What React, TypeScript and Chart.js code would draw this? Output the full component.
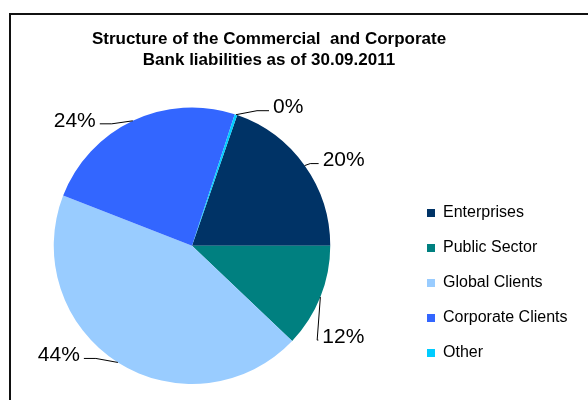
import { useEffect, useRef } from "react"
import { Chart, registerables } from "chart.js"

Chart.register(...registerables)

const categories = ["Enterprises", "Public Sector", "Global Clients", "Corporate Clients", "Other"]
const shares = [19.7, 12.1, 43.8, 24.1, 0.3]
const sliceColors = ["#003366", "#008080", "#99CCFF", "#3366FF", "#00CCFF"]
const titleLines = ["Structure of the Commercial  and Corporate", "Bank liabilities as of 30.09.2011"]

// where each percentage label sits, relative to the edge of its slice (Excel's manual placement)
const labelOffsets = [
  { dx: 18, dy: -5 },
  { dx: 2, dy: 40 },
  { dx: -38, dy: -7 },
  { dx: -37, dy: 0 },
  { dx: 37, dy: -7 },
]

const FONT = "Arial, 'Liberation Sans', sans-serif"
// the canvas starts a little left of the page so the pie area can reach past its edge
const SHIFT = 24
// the title is centred over the whole chart frame, not over the pie
const TITLE_X = 269
const TITLE_Y = 39

const frameTitle = {
  id: "frameTitle",
  afterDraw(chart: Chart) {
    const ctx = chart.ctx
    ctx.save()
    ctx.font = `bold 17px ${FONT}`
    ctx.fillStyle = "#000"
    ctx.textAlign = "center"
    ctx.textBaseline = "middle"
    titleLines.forEach((line, i) => {
      ctx.fillText(line, TITLE_X + SHIFT, TITLE_Y + i * 21.3)
    })
    ctx.restore()
  },
}

// percentage labels with leader lines, placed outside the pie
const outsideLabels = {
  id: "outsideLabels",
  afterDatasetsDraw(chart: Chart) {
    const ctx = chart.ctx
    const meta = chart.getDatasetMeta(0)
    const values = chart.data.datasets[0].data as number[]
    const total = values.reduce((a, b) => a + b, 0)

    ctx.save()
    ctx.font = `21px ${FONT}`
    ctx.fillStyle = "#000"
    ctx.strokeStyle = "#000"
    ctx.lineWidth = 1
    ctx.textBaseline = "middle"

    meta.data.forEach((arc: any, i: number) => {
      const { x, y, startAngle, endAngle, outerRadius } = arc.getProps(
        ["x", "y", "startAngle", "endAngle", "outerRadius"],
        true,
      )
      const mid = (startAngle + endAngle) / 2
      const px = x + outerRadius * Math.cos(mid)
      const py = y + outerRadius * Math.sin(mid)

      const off = labelOffsets[i]
      const tx = px + off.dx
      const ty = py + off.dy
      const side = off.dx >= 0 ? 1 : -1

      // leader line: edge -> elbow -> next to the text
      const qx = tx - side * 4
      const qy = ty + 3
      const ex = qx - side * Math.min(12, Math.abs(qx - px) * 0.6)
      ctx.beginPath()
      ctx.moveTo(px, py)
      ctx.lineTo(ex, qy)
      ctx.lineTo(qx, qy)
      ctx.stroke()

      ctx.textAlign = side > 0 ? "left" : "right"
      ctx.fillText(`${Math.round((values[i] / total) * 100)}%`, tx, ty)
    })
    ctx.restore()
  },
}

export default function App() {
  const chartRef = useRef<HTMLCanvasElement>(null)
  const chartInstance = useRef<Chart | null>(null)

  useEffect(() => {
    if (!chartRef.current) return
    const ctx = chartRef.current.getContext("2d")
    if (!ctx) return

    if (chartInstance.current) {
      chartInstance.current.destroy()
    }

    chartInstance.current = new Chart(ctx, {
      type: "pie",
      data: {
        labels: categories,
        datasets: [
          {
            data: shares,
            backgroundColor: sliceColors,
            borderWidth: 0,
            hoverBorderWidth: 0,
            hoverOffset: 0,
          },
        ],
      },
      options: {
        responsive: false,
        animation: false,
        rotation: 19.1,
        layout: {
          padding: { left: 0, right: 10.5, top: 107.5, bottom: 16 },
        },
        plugins: {
          title: { display: false },
          legend: {
            position: "right",
            align: "start",
            fullSize: false,
            // empty title only pushes the entries down to the middle of the box
            title: {
              display: true,
              text: "",
              font: { size: 12 },
              padding: { top: 0, bottom: 64 },
            },
            labels: {
              boxWidth: 8,
              boxHeight: 8,
              padding: 19,
              color: "#000",
              font: { family: FONT, size: 16 },
            },
          },
          tooltip: { enabled: false },
        },
      },
      plugins: [outsideLabels, frameTitle],
    })

    return () => {
      if (chartInstance.current) {
        chartInstance.current.destroy()
        chartInstance.current = null
      }
    }
  }, [])

  return (
    <div
      style={{
        position: "fixed",
        left: 0,
        top: 0,
        width: 588,
        height: 400,
        overflow: "hidden",
        background: "#fff",
      }}
    >
      <div
        style={{
          position: "absolute",
          left: 9,
          top: 13,
          width: 620,
          height: 420,
          border: "2px solid #111",
        }}
      />
      <canvas
        ref={chartRef}
        width={588 + SHIFT}
        height={400}
        style={{ position: "absolute", left: -SHIFT, top: 0 }}
      />
    </div>
  )
}
